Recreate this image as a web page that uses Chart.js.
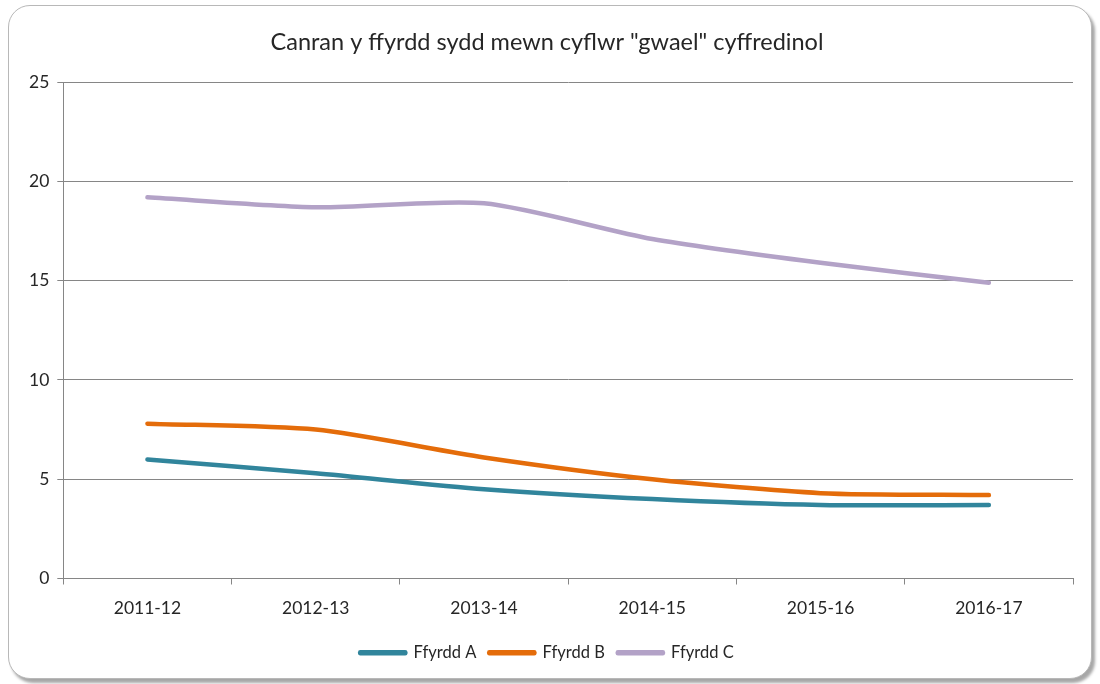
<!DOCTYPE html>
<html>
<head>
<meta charset="utf-8">
<script src="https://cdn.jsdelivr.net/npm/chart.js@4"></script>
<style>
  html, body { margin: 0; padding: 0; background: #ffffff; }
  #frame {
    position: absolute; left: 8px; top: 5px; width: 1082px; height: 672px;
    border: 1.5px solid #b8b8b8; border-radius: 22px; background: #fff;
    box-shadow: 3px 4px 3px rgba(0,0,0,0.35);
  }
  #wrap { position: absolute; left: 0; top: 0; width: 1100px; height: 684px; }
</style>
</head>
<body>
<div id="frame"></div>
<div id="wrap"><canvas id="c" width="1100" height="684"></canvas></div>
<script>
const categories = ["2011-12", "2012-13", "2013-14", "2014-15", "2015-16", "2016-17"];
const ffyrddA = [6.0, 5.3, 4.5, 4.0, 3.7, 3.7];
const ffyrddB = [7.8, 7.5, 6.1, 5.0, 4.3, 4.2];
const ffyrddC = [19.2, 18.7, 18.9, 17.1, 15.9, 14.9];
const seriesNames = ["Ffyrdd A", "Ffyrdd B", "Ffyrdd C"];
const titleText = 'Canran y ffyrdd sydd mewn cyflwr "gwael" cyffredinol';

const FONT = "Lato, 'Open Sans', sans-serif";
const TXT = "#262626";

new Chart(document.getElementById("c"), {
  type: "line",
  data: {
    labels: categories,
    datasets: [
      { label: seriesNames[0], data: ffyrddA, borderColor: "#31859C", backgroundColor: "#31859C" },
      { label: seriesNames[1], data: ffyrddB, borderColor: "#E46C0A", backgroundColor: "#E46C0A" },
      { label: seriesNames[2], data: ffyrddC, borderColor: "#B3A2C7", backgroundColor: "#B3A2C7" }
    ].map(d => Object.assign(d, {
      borderWidth: 4.5, pointRadius: 0, tension: 0.25, fill: false,
      borderCapStyle: "round", borderJoinStyle: "round"
    }))
  },
  options: {
    responsive: false,
    animation: false,
    layout: { padding: { left: 21, right: 27, top: 14, bottom: 13 } },
    plugins: {
      title: {
        display: true, text: titleText, color: TXT,
        font: { family: FONT, size: 23.5, weight: "normal" },
        padding: { top: 14, bottom: 26 }
      },
      legend: {
        position: "bottom",
        labels: {
          color: TXT, font: { family: FONT, size: 16.5 },
          boxWidth: 45, boxHeight: 1, padding: 13
        }
      },
      tooltip: { enabled: false }
    },
    scales: {
      x: {
        offset: true,
        grid: { offset: true, drawOnChartArea: false, drawTicks: true, tickLength: 6, color: "#868686" },
        border: { color: "#868686", width: 1 },
        ticks: { color: TXT, font: { family: FONT, size: 17.5 }, padding: 13, maxRotation: 0 }
      },
      y: {
        min: 0, max: 25,
        grid: { color: "#868686", tickLength: 6, lineWidth: 1 },
        border: { color: "#868686", width: 1 },
        ticks: { stepSize: 5, color: TXT, font: { family: FONT, size: 17.5 }, padding: 8 }
      }
    }
  }
});
</script>
</body>
</html>
